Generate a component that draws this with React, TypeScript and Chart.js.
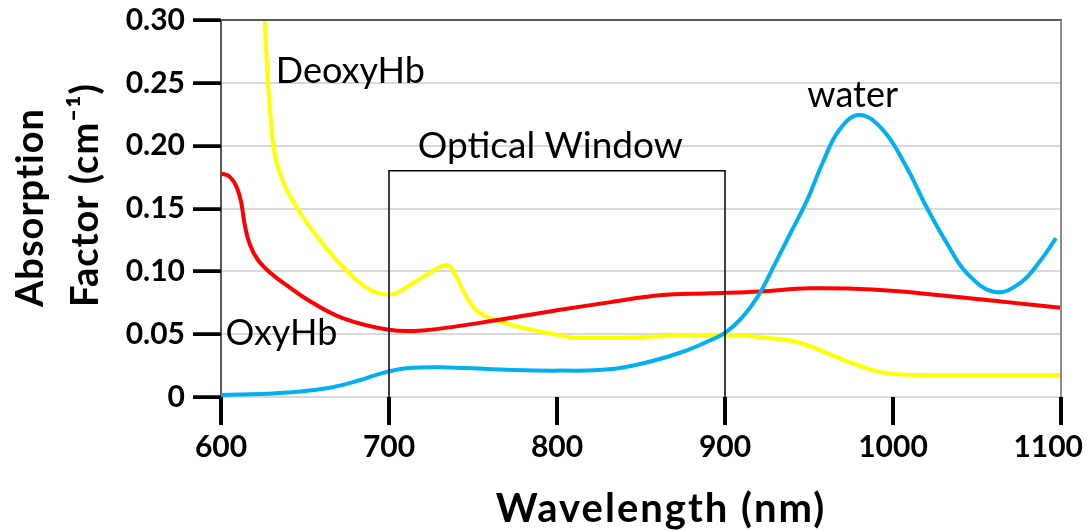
import React, { useEffect, useRef } from "react";
import { Chart, registerables } from "chart.js";

Chart.register(...registerables);

// ---- data ----
const X_TICKS = [600, 700, 800, 900, 1000, 1100];
const Y_TICKS = [0, 0.05, 0.1, 0.15, 0.2, 0.25, 0.3];

const waterWavelength = [600, 633, 663, 683, 696, 712, 735, 774, 802, 831, 855, 875, 891, 900, 910, 920, 929, 939, 949, 958, 968, 980, 994, 1008, 1020, 1032, 1044, 1061, 1076, 1088, 1097];
const waterAbsorption = [0.0016, 0.003, 0.007, 0.0135, 0.019, 0.023, 0.0235, 0.0215, 0.021, 0.022, 0.028, 0.036, 0.045, 0.051, 0.063, 0.081, 0.104, 0.1305, 0.157, 0.186, 0.2125, 0.2245, 0.2125, 0.183, 0.151, 0.1225, 0.0985, 0.0835, 0.091, 0.109, 0.1265];

const oxyWavelength = [600, 605, 609, 612, 614, 617, 622, 630, 640, 652, 672, 700, 720, 754, 800, 832, 861, 891, 921, 950, 988, 1028, 1068, 1100];
const oxyAbsorption = [0.178, 0.1755, 0.168, 0.155, 0.138, 0.122, 0.109, 0.098, 0.088, 0.077, 0.063, 0.0535, 0.053, 0.059, 0.069, 0.0755, 0.081, 0.0825, 0.084, 0.0865, 0.0855, 0.081, 0.0755, 0.071];

const deoxyWavelength = [626, 628, 631, 636, 646, 660, 676, 689, 701, 714, 724, 731, 735, 740, 746, 752, 760, 774, 794, 814, 840, 870, 900, 925, 945, 968, 992, 1016, 1060, 1100];
const deoxyAbsorption = [0.3, 0.25, 0.202, 0.175, 0.149, 0.123, 0.099, 0.085, 0.0815, 0.0905, 0.0987, 0.104, 0.105, 0.096, 0.08, 0.069, 0.063, 0.057, 0.051, 0.047, 0.047, 0.049, 0.0495, 0.047, 0.043, 0.031, 0.02, 0.0175, 0.0175, 0.0175];

const SERIES_NAMES = ["DeoxyHb", "OxyHb", "water"];
const WINDOW_LABEL = "Optical Window";
const WINDOW_RANGE = [700, 900];
const WINDOW_TOP = 0.18;
const X_TITLE = "Wavelength (nm)";
const Y_TITLE = ["Absorption", "Factor (cm\u207B\u00B9)"];

const FONT = "Lato, 'Open Sans', sans-serif";

const toPoints = (xs: number[], ys: number[]) => xs.map((x, i) => ({ x, y: ys[i] }));

const annotationPlugin = {
  id: "annotations",
  afterDatasetsDraw(chart: any) {
    const { ctx, scales, chartArea } = chart;
    const xs = scales.x;
    const ys = scales.y;
    ctx.save();
    // optical window box
    const x0 = xs.getPixelForValue(WINDOW_RANGE[0]);
    const x1 = xs.getPixelForValue(WINDOW_RANGE[1]);
    const yTop = ys.getPixelForValue(WINDOW_TOP);
    const yBot = ys.getPixelForValue(0);
    ctx.strokeStyle = "#000";
    ctx.lineWidth = 1.5;
    ctx.beginPath();
    ctx.moveTo(x0, yBot);
    ctx.lineTo(x0, yTop);
    ctx.lineTo(x1, yTop);
    ctx.lineTo(x1, yBot);
    ctx.stroke();

    // text labels
    ctx.fillStyle = "#000";
    ctx.textAlign = "center";
    ctx.textBaseline = "alphabetic";
    const labels: [string, number, number, number][] = [
      [SERIES_NAMES[0], 677, 0.25, 36],
      [WINDOW_LABEL, 796, 0.19, 37],
      [SERIES_NAMES[2], 976, 0.231, 36],
      [SERIES_NAMES[1], 636, 0.0414, 36],
    ];
    labels.forEach(([t, x, y, size]) => {
      ctx.font = `${size}px ${FONT}`;
      ctx.fillText(t, xs.getPixelForValue(x), ys.getPixelForValue(y));
    });

    // frame top & right
    ctx.fillStyle = "#595959";
    ctx.fillRect(chartArea.left, chartArea.top - 1, chartArea.right - chartArea.left + 1, 2);
    ctx.fillStyle = "#8c8c8c";
    ctx.fillRect(chartArea.right - 1, chartArea.top, 2, chartArea.bottom - chartArea.top);
    ctx.restore();
  },
  afterDraw(chart: any) {
    const { ctx, chartArea, scales, width } = chart;
    const xs = scales.x;
    const ys = scales.y;
    ctx.save();
    ctx.fillStyle = "#000";
    // y tick marks
    Y_TICKS.forEach((v) => {
      const py = Math.round(ys.getPixelForValue(v));
      ctx.fillRect(chartArea.left - 28, py - 1.5, 28, 3.5);
    });
    // x tick marks and labels
    ctx.font = `bold 30px ${FONT}`;
    ctx.textAlign = "center";
    ctx.textBaseline = "alphabetic";
    X_TICKS.forEach((v) => {
      const px = Math.round(xs.getPixelForValue(v));
      ctx.fillRect(px - 2, chartArea.bottom, 4, 28);
      const label = String(v);
      const w = ctx.measureText(label).width;
      const cx = Math.min(px, width - 4 - w / 2);
      ctx.fillText(label, cx, chartArea.bottom + 60);
    });

    // x title
    ctx.font = `bold 40px ${FONT}`;
    (ctx as any).letterSpacing = "2px";
    ctx.fillText(X_TITLE, (chartArea.left + chartArea.right) / 2 + 20, chartArea.bottom + 125);
    // y title (rotated, left-aligned from bottom)
    ctx.translate(0, chartArea.bottom - 90);
    ctx.rotate(-Math.PI / 2);
    ctx.textAlign = "left";
    ctx.font = `bold 38px ${FONT}`;
    (ctx as any).letterSpacing = "1px";
    ctx.fillText(Y_TITLE[0], 0, 43);
    ctx.fillText(Y_TITLE[1], 0, 98);
    ctx.restore();
  },
};

export default function App() {
  const ref = useRef<HTMLCanvasElement | null>(null);
  useEffect(() => {
    if (!ref.current) return;
    const chart = new Chart(ref.current, {
      type: "scatter",
      data: {
        datasets: [
          {
            label: SERIES_NAMES[2],
            data: toPoints(waterWavelength, waterAbsorption),
            borderColor: "#00b0f0",
            backgroundColor: "#00b0f0",
            showLine: true,
            borderWidth: 4,
            pointRadius: 0,
            tension: 0.4,
            order: 1,
          },
          {
            label: SERIES_NAMES[1],
            data: toPoints(oxyWavelength, oxyAbsorption),
            borderColor: "#ff0000",
            backgroundColor: "#ff0000",
            showLine: true,
            borderWidth: 4,
            pointRadius: 0,
            tension: 0.4,
            order: 2,
          },
          {
            label: SERIES_NAMES[0],
            data: toPoints(deoxyWavelength, deoxyAbsorption),
            borderColor: "#ffff00",
            backgroundColor: "#ffff00",
            showLine: true,
            borderWidth: 4,
            pointRadius: 0,
            cubicInterpolationMode: "monotone",
            order: 3,
          },
        ],
      },
      options: {
        responsive: false,
        animation: false,
        events: [],
        layout: { padding: { top: 20, right: 26, left: 0, bottom: 0 } },
        plugins: {
          legend: { display: false },
          tooltip: { enabled: false },
          title: { display: false },
        },
        scales: {
          x: {
            type: "linear",
            min: 600,
            max: 1100,
            afterBuildTicks: (s: any) => {
              s.ticks = X_TICKS.map((v) => ({ value: v }));
            },
            afterFit: (s: any) => {
              s.height = 134;
              s.paddingLeft = 0;
              s.paddingRight = 0;
            },
            ticks: { display: false },
            grid: { display: false },
            border: { display: true, color: "#d9d9d9", width: 2 },
          },
          y: {
            type: "linear",
            min: 0,
            max: 0.3,
            afterBuildTicks: (s: any) => {
              s.ticks = Y_TICKS.map((v) => ({ value: v }));
            },
            afterFit: (s: any) => {
              s.width = 221;
              s.paddingTop = 0;
              s.paddingBottom = 0;
            },
            ticks: {
              color: "#000",
              font: { family: FONT, size: 30, weight: "bold" },
              padding: 8,
              callback: (v: any) => (v === 0 ? "0" : Number(v).toFixed(2)),
            },
            grid: {
              color: "#d9d9d9",
              lineWidth: 2,
              drawTicks: true,
              tickLength: 28,
              tickColor: "#000",
              tickWidth: 3,
            },
            border: { color: "#595959", width: 2 },
          },
        },
      },
      plugins: [annotationPlugin],
    } as any);
    return () => chart.destroy();
  }, []);
  return (
    <div style={{ position: "absolute", left: 0, top: 0, width: 1087, height: 531 }}>
      <canvas ref={ref} width={1087} height={531} />
    </div>
  );
}
